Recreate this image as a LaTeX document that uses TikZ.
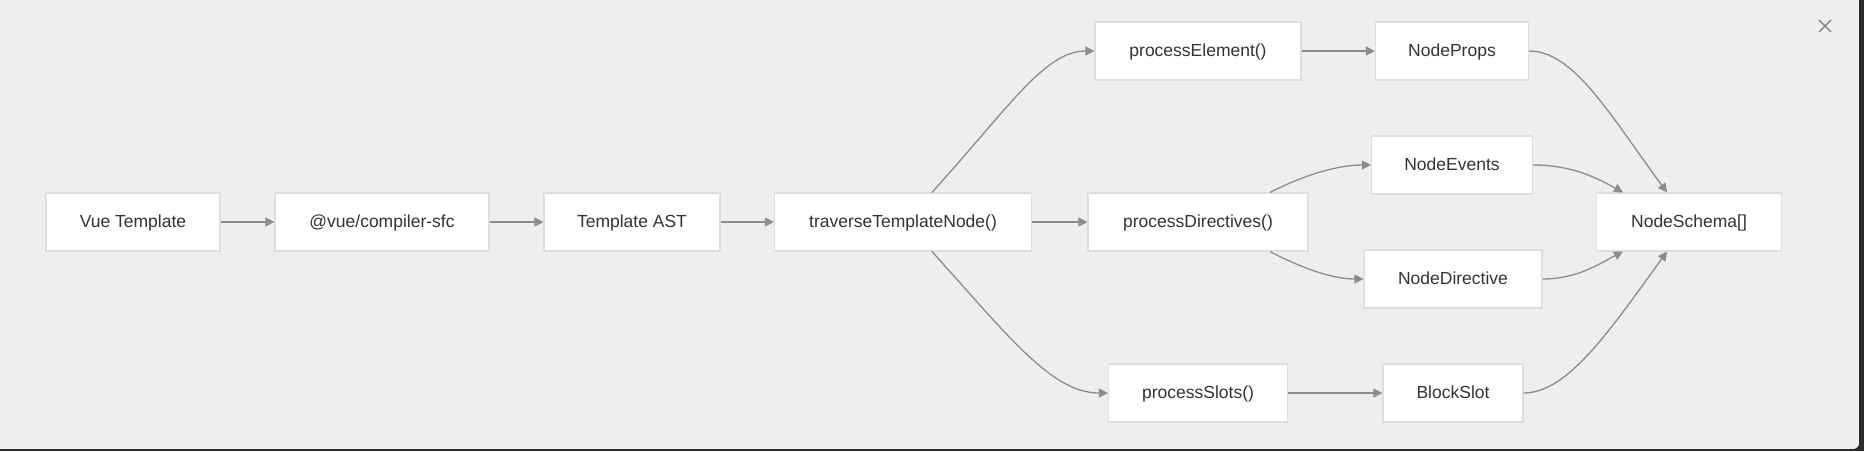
\documentclass[tikz,border=0pt]{standalone}
\usepackage{fontspec}
\setmainfont{Liberation Sans}
\usetikzlibrary{arrows.meta,calc}
\definecolor{bg}{HTML}{EFEEED}
\definecolor{frame}{HTML}{2B2B2B}
\definecolor{edge}{HTML}{8C8C8C}
\definecolor{boxline}{HTML}{DEDEDE}
\definecolor{txt}{HTML}{333333}
\definecolor{closex}{HTML}{7A7A7A}
\tikzset{
  box/.style={draw=boxline, line width=1.2pt, fill=white, minimum height=58pt,
    inner sep=0pt, text height=12.5pt, text depth=1pt,
    font=\fontsize{17.5}{20}\selectfont, text=txt},
  conn/.style={draw=edge, line width=1.3pt, -{Triangle[length=9pt,width=9pt]}},
}
\begin{document}
\begin{tikzpicture}[x=1pt,y=-1pt]
% frame and background
\fill[frame] (0,0) rectangle (1864,451);
\fill[bg] (0,0) rectangle (1859,443);
\fill[bg] (0,0) rectangle (1853,449);
\fill[bg] (1853,443) circle (6pt);
% close icon
\draw[closex, line width=1.2pt] (1819,20) -- (1831,32) (1819,32) -- (1831,20);

% nodes
\node[box, minimum width=174pt] (vue)   at (133,222)  {Vue Template};
\node[box, minimum width=214pt] (sfc)   at (382,222)  {@vue/compiler-sfc};
\node[box, minimum width=176pt] (ast)   at (632,222)  {Template AST};
\node[box, minimum width=257pt] (trav)  at (903,222)  {traverseTemplateNode()};
\node[box, minimum width=206pt] (pel)   at (1198,51)  {processElement()};
\node[box, minimum width=220pt] (pdir)  at (1198,222) {processDirectives()};
\node[box, minimum width=179pt] (psl)   at (1198,393) {processSlots()};
\node[box, minimum width=153pt] (nprops) at (1452,51) {NodeProps};
\node[box, minimum width=161pt] (nev)   at (1452,165) {NodeEvents};
\node[box, minimum width=178pt] (ndir)  at (1453,279) {NodeDirective};
\node[box, minimum width=140pt] (bslot) at (1453,393) {BlockSlot};
\node[box, minimum width=185pt] (nsch)  at (1689,222) {NodeSchema[]};

% straight connectors
\draw[conn] (vue.east) -- (sfc.west);
\draw[conn] (sfc.east) -- (ast.west);
\draw[conn] (ast.east) -- (trav.west);
\draw[conn] (trav.east) -- (pdir.west);
\draw[conn] (pel.east) -- (nprops.west);
\draw[conn] (psl.east) -- (bslot.west);

% curved connectors
\draw[conn] ([xshift=29pt]trav.north) .. controls (1010,106) and (1045,51) .. (pel.west);
\draw[conn] ([xshift=29pt]trav.south) .. controls (1010,338) and (1052,393) .. (psl.west);
\draw[conn] ([xshift=72pt]pdir.north) .. controls (1300,177) and (1335,165) .. (nev.west);
\draw[conn] ([xshift=72pt]pdir.south) .. controls (1298,266) and (1330,279) .. (ndir.west);
\draw[conn] (nprops.east) .. controls (1574,51) and (1610,115) .. ([xshift=-22pt]nsch.north);
\draw[conn] (nev.east) .. controls (1572,165) and (1597,178) .. ([xshift=-66pt]nsch.north);
\draw[conn] (ndir.east) .. controls (1577,279) and (1599,264) .. ([xshift=-66pt]nsch.south);
\draw[conn] (bslot.east) .. controls (1568,393) and (1610,330) .. ([xshift=-22pt]nsch.south);
\end{tikzpicture}
\end{document}
